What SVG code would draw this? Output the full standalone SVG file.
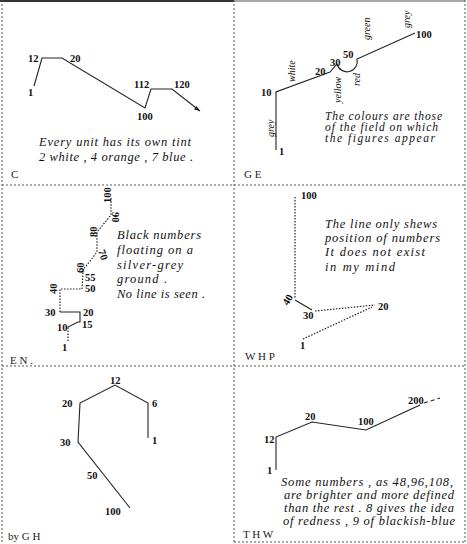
<svg xmlns="http://www.w3.org/2000/svg" width="467" height="544" viewBox="0 0 467 544">
<style>
.n{font-family:"Liberation Serif",serif;font-weight:bold;font-size:10.5px;fill:#111}
.c{font-family:"Liberation Serif",serif;font-style:italic;font-size:12.5px;fill:#111}
.c2{font-family:"Liberation Serif",serif;font-style:italic;font-size:11.5px;fill:#111}
.s{font-family:"Liberation Serif",serif;font-size:11px;fill:#222}
.r{font-family:"Liberation Serif",serif;font-style:italic;font-size:10px;fill:#111}
.l{fill:none;stroke:#222;stroke-width:1.1}
.d{fill:none;stroke:#222;stroke-width:1.2;stroke-dasharray:1.5 1.5}
.fr{fill:none;stroke:#555;stroke-width:1;stroke-dasharray:2 2}
</style>
<rect width="467" height="544" fill="#fff"/>
<g id="frame">
<line x1="0" y1="1" x2="234" y2="1" stroke="#333" stroke-width="2"/>
<line x1="234" y1="1" x2="465" y2="1" stroke="#555" stroke-width="1"/>
<line x1="2" y1="0" x2="2" y2="544" class="fr"/>
<line x1="465" y1="0" x2="465" y2="544" class="fr"/>
<line x1="234" y1="0" x2="234" y2="544" class="fr"/>
<line x1="2" y1="185" x2="465" y2="185" class="fr"/>
<line x1="2" y1="366" x2="465" y2="366" class="fr"/>
<line x1="234" y1="542" x2="465" y2="542" class="fr"/>
</g>
<g id="connectors">
<polyline class="l" points="34,86 42,58 62,58 145,108 151,89 172,89 200,111"/>
<path d="M200,111 l-6,-1.5 l2.5,-3.5 z" fill="#222"/>
<polyline class="l" points="276,150 276,92 330,72 337,64"/>
<path class="l" d="M337,64 A10,10 0 0 0 357,59 L415,33"/>
<polyline class="d" points="68,341 68,328"/>
<polyline class="l" points="68,328 68,327 78,322 80,322 80,312 60,312"/>
<polyline class="d" points="60,312 60,289 82,289 83,272 83,270 97,252 97,232 111,215 111,198"/>
<polyline class="d" points="295,197 295,299"/>
<line class="l" x1="295" y1="300" x2="312" y2="310"/>
<polyline class="d" points="315,311 375,305"/>
<polyline class="d" points="303,339 372,307"/>
<polyline class="l" points="148,438 148,403 115,385 80,403 78,442 130,508"/>
<polyline class="l" points="276,470 276,437 312,422 366,430 420,405"/>
<line class="l" x1="424" y1="403" x2="440" y2="398" stroke-dasharray="4 3"/>
</g>
<g id="panel-C">
<text class="n" x="28" y="62">12</text>
<text class="n" x="70" y="62">20</text>
<text class="n" x="28" y="96">1</text>
<text class="n" x="134" y="88">112</text>
<text class="n" x="174" y="88">120</text>
<text class="n" x="137" y="120">100</text>
<text class="c" x="39" y="146" textLength="152">Every unit has its own tint</text>
<text class="c" x="39" y="161" textLength="154">2 white , 4 orange , 7 blue .</text>
<text class="s" x="11" y="178">C</text>
</g>
<g id="panel-GE">
<text class="n" x="279" y="155">1</text>
<text class="n" x="261" y="96">10</text>
<text class="n" x="315" y="75">20</text>
<text class="n" x="330" y="66">30</text>
<text class="n" x="343" y="58">50</text>
<text class="n" x="416" y="38">100</text>
<text class="r" transform="translate(274,137) rotate(-90)">grey</text>
<text class="r" transform="translate(295,82) rotate(-90)">white</text>
<text class="r" transform="translate(341,103) rotate(-90)">yellow</text>
<text class="r" transform="translate(360,86) rotate(-90)">red</text>
<text class="r" transform="translate(370,40) rotate(-90)">green</text>
<text class="r" transform="translate(410,28) rotate(-90)">grey</text>
<text class="c2" x="325" y="120" textLength="117">The colours are those</text>
<text class="c2" x="325" y="131" textLength="113">of the field on which</text>
<text class="c2" x="325" y="142" textLength="110">the figures appear</text>
<text class="s" x="244" y="178">G E</text>
</g>
<g id="panel-EN">
<text class="n" x="62" y="351">1</text>
<text class="n" x="57" y="331">10</text>
<text class="n" x="82" y="328">15</text>
<text class="n" x="83" y="316">20</text>
<text class="n" x="45" y="316">30</text>
<text class="n" transform="translate(57,294) rotate(-90)">40</text>
<text class="n" x="85" y="292">50</text>
<text class="n" x="85" y="281">55</text>
<text class="n" transform="translate(84,273) rotate(-90)">60</text>
<text class="n" transform="translate(98,251) rotate(70)">70</text>
<text class="n" transform="translate(97,237) rotate(-90)">80</text>
<text class="n" transform="translate(112,212) rotate(90)">90</text>
<text class="n" transform="translate(111,203) rotate(-90)">100</text>
<text class="c" x="117" y="239" textLength="84">Black numbers</text>
<text class="c" x="117" y="254" textLength="76">floating on a</text>
<text class="c" x="117" y="269" textLength="66">silver-grey</text>
<text class="c" x="117" y="283" textLength="50">ground .</text>
<text class="c" x="117" y="298" textLength="88">No line is seen .</text>
<text class="s" x="10" y="364">E N .</text>
</g>
<g id="panel-WHP">
<text class="n" x="301" y="199">100</text>
<text class="n" transform="translate(288,306) rotate(-60)">40</text>
<text class="n" x="303" y="319">30</text>
<text class="n" x="378" y="310">20</text>
<text class="n" x="300" y="349">1</text>
<text class="c" x="325" y="228" textLength="112">The line only shews</text>
<text class="c" x="325" y="242" textLength="115">position of numbers</text>
<text class="c" x="325" y="256" textLength="100">It does not exist</text>
<text class="c" x="325" y="271" textLength="70">in my mind</text>
<text class="s" x="245" y="360">W H P</text>
</g>
<g id="panel-GH">
<text class="n" x="110" y="384">12</text>
<text class="n" x="62" y="407">20</text>
<text class="n" x="152" y="407">6</text>
<text class="n" x="152" y="444">1</text>
<text class="n" x="60" y="446">30</text>
<text class="n" x="87" y="479">50</text>
<text class="n" x="105" y="515">100</text>
<text class="s" x="8" y="540">by G H</text>
</g>
<g id="panel-THW">
<text class="n" x="267" y="474">1</text>
<text class="n" x="264" y="443">12</text>
<text class="n" x="305" y="420">20</text>
<text class="n" x="358" y="425">100</text>
<text class="n" x="408" y="404">200</text>
<text class="c" x="281" y="486" textLength="172">Some numbers , as 48,96,108,</text>
<text class="c" x="284" y="499" textLength="170">are brighter and more defined</text>
<text class="c" x="284" y="512" textLength="170">than the rest . 8 gives the idea</text>
<text class="c" x="283" y="525" textLength="172">of redness , 9 of blackish-blue</text>
<text class="s" x="243" y="538">T H W</text>
</g>
</svg>
